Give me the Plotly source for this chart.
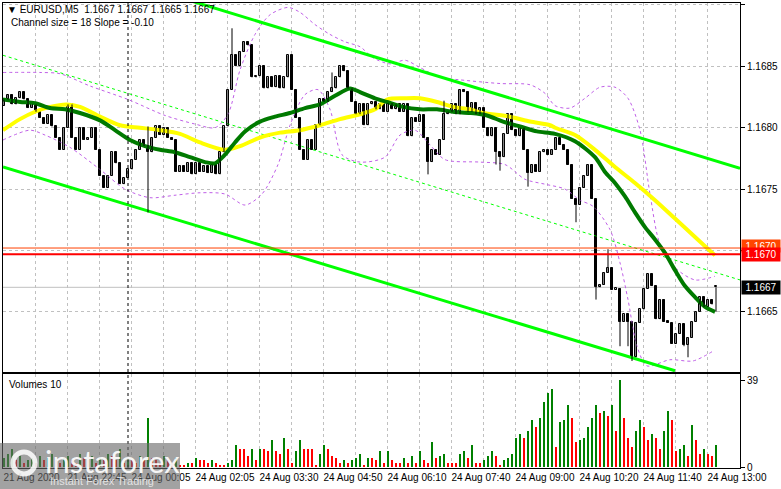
import plotly.graph_objects as go

# ---------------- data ----------------
closes = [
    1.16823, 1.16827, 1.16819, 1.16824, 1.16829, 1.16823, 1.16816, 1.16819, 1.16813, 1.16808,
    1.16803, 1.16810, 1.16801, 1.16792, 1.16782, 1.16800, 1.16819, 1.16792, 1.16782, 1.16800,
    1.16790, 1.16792, 1.16800, 1.16782, 1.16761, 1.16751, 1.16761, 1.16780, 1.16771, 1.16754,
    1.16759, 1.16766, 1.16774, 1.16782, 1.16790, 1.16785, 1.16780, 1.16792, 1.16801, 1.16794,
    1.16800, 1.16792, 1.16790, 1.16764, 1.16769, 1.16764, 1.16771, 1.16762, 1.16771, 1.16764,
    1.16769, 1.16763, 1.16770, 1.16762, 1.16780, 1.16801, 1.16831, 1.16859, 1.16850, 1.16862,
    1.16870, 1.16867, 1.16841, 1.16842, 1.16850, 1.16832, 1.16841, 1.16833, 1.16842, 1.16832,
    1.16841, 1.16859, 1.16831, 1.16808, 1.16782, 1.16774, 1.16790, 1.16782, 1.16802, 1.16823,
    1.16821, 1.16829, 1.16832, 1.16841, 1.16850, 1.16846, 1.16832, 1.16821, 1.16811, 1.16819,
    1.16802, 1.16819, 1.16821, 1.16815, 1.16819, 1.16813, 1.16820, 1.16815, 1.16819, 1.16813,
    1.16819, 1.16793, 1.16808, 1.16805, 1.16810, 1.16792, 1.16772, 1.16782, 1.16778, 1.16790,
    1.16811, 1.16813, 1.16819, 1.16811, 1.16831, 1.16829, 1.16813, 1.16820, 1.16811, 1.16816,
    1.16800, 1.16793, 1.16800, 1.16780, 1.16776, 1.16795, 1.16811, 1.16798, 1.16793, 1.16800,
    1.16782, 1.16763, 1.16770, 1.16764, 1.16780, 1.16782, 1.16778, 1.16782, 1.16792, 1.16786,
    1.16782, 1.16770, 1.16742, 1.16737, 1.16751, 1.16761, 1.16770, 1.16742, 1.16670, 1.16672,
    1.16682, 1.16686, 1.16668, 1.16669, 1.16642, 1.16648, 1.16642, 1.16613, 1.16641, 1.16652,
    1.16669, 1.16681, 1.16671, 1.16644, 1.16660, 1.16642, 1.16641, 1.16624, 1.16632, 1.16640,
    1.16623, 1.16629, 1.16642, 1.16650, 1.16662, 1.16654, 1.16660, 1.16656, 1.16670,
]
first_open = 1.16818
last_ohlc = (1.1667, 1.1667, 1.1665, 1.1667)   # header: O H L C
# notable wicks: bar -> (high, low)
wicks = {
    36: (1.16801, 1.16731), 57: (1.16881, 1.16831), 73: (1.16831, 1.16808),
    82: (1.16845, 1.16829), 106: (1.16792, 1.16762), 110: (1.16822, 1.16790),
    123: (1.16793, 1.16770), 124: (1.16780, 1.16765), 131: (1.16782, 1.16752),
    143: (1.16742, 1.16723), 148: (1.16742, 1.16660), 151: (1.16701, 1.16682),
    154: (1.16669, 1.16622), 156: (1.16648, 1.16622), 157: (1.16642, 1.16610),
    170: (1.16640, 1.16622), 171: (1.16629, 1.16613), 160: (1.16669, 1.16652),
}
volumes = [
    4, 6, 8, 3, 5, 2, 3, 4, 2, 5, 3, 4, 6, 3, 2, 4, 5, 3, 2, 6,
    4, 3, 5, 2, 4, 3, 6, 5, 3, 8, 2, 4, 3, 2, 5, 3, 22, 4, 3, 2,
    5, 3, 2, 4,
    1, 1, 2, 2, 4, 3, 3, 2, 3, 2, 1, 1, 2, 3, 10, 8, 8, 5, 8, 3,
    8, 8, 7, 12, 7, 6, 13, 8, 2, 7, 12, 8, 8, 8, 1, 6, 10, 8, 5, 4,
    2, 3, 2, 3, 4, 6, 1, 4, 4, 3,
    7, 2, 7, 3, 2, 2, 4, 2, 5, 2, 7, 3, 2, 11, 4, 5, 6, 2, 2, 2,
    6, 7, 4, 10, 2, 2, 3, 5, 7, 5, 1, 3, 4, 6, 13, 15, 13, 16, 21, 18,
    22, 29, 33, 35, 9, 20, 21, 28, 22, 11, 12, 13, 18, 22, 28, 24, 25, 23, 28, 16,
    39, 22, 13, 9, 16, 21, 18, 12, 15, 13, 8, 16, 25, 21, 7, 8, 10, 5, 19, 12,
    6, 8, 6, 5, 10,
]
# moving averages and bands read at sample bars
ma_slow_bar = [-0.25, 4, 7.75, 11.5, 15.75, 19, 24, 29, 34, 39, 44, 49, 55.25, 59, 64, 69, 74, 79,
               84, 89, 92.75, 95.75, 100.25, 104, 108.25, 112.25, 116.5, 119.75, 126.5, 131.5,
               136.5, 137.75, 142.75, 147.75, 152.75, 157.75, 162.75, 167.75, 172.75, 177.75]
ma_slow = [1.16798, 1.16807, 1.16813, 1.16817, 1.16819, 1.16817, 1.16809, 1.16802, 1.16800, 1.16798,
           1.16795, 1.16788, 1.16782, 1.16785, 1.16792, 1.16796, 1.16798, 1.16802, 1.16807, 1.16811,
           1.16815, 1.16823, 1.16824, 1.16824, 1.16821, 1.16817, 1.16815, 1.16812, 1.16809, 1.16805,
           1.16802, 1.16800, 1.16794, 1.16782, 1.16768, 1.16755, 1.16741, 1.16726, 1.16711, 1.16696]
ma_fast_bar = [-0.25, 4, 7.75, 11.5, 15.25, 19, 24, 27.75, 31.5, 35.25, 39, 42.75, 46.5, 50.25, 52.75,
               55.25, 57.75, 60.25, 64, 67.75, 71.5, 75.25, 79, 82.75, 86.5, 89, 92.75, 95.75, 99.75,
               104, 108.25, 112.25, 116.5, 120.75, 124.75, 129, 133.25, 137.75, 142.75, 147.75,
               150.25, 152.75, 155.25, 157.75, 160.25, 162.75, 165.25, 167.75, 170.25, 172.75,
               175.25, 177.75]
ma_fast = [1.16823, 1.16821, 1.16820, 1.16816, 1.16815, 1.16812, 1.16806, 1.16798, 1.16790, 1.16785,
           1.16782, 1.16780, 1.16776, 1.16772, 1.16771, 1.16778, 1.16788, 1.16797, 1.16805, 1.16809,
           1.16812, 1.16816, 1.16819, 1.16826, 1.16832, 1.16829, 1.16824, 1.16821, 1.16817, 1.16815,
           1.16815, 1.16813, 1.16812, 1.16810, 1.16805, 1.16801, 1.16797, 1.16795, 1.16789, 1.16776,
           1.16764, 1.16755, 1.16744, 1.16731, 1.16719, 1.16709, 1.16698, 1.16684, 1.16671, 1.16662,
           1.16654, 1.16650]
bb_up_bar = [-0.25, 9, 14, 21.5, 31, 40.25, 47.75, 52.75, 56, 59, 62.75, 66.5, 71, 74, 77.75, 81.5,
             85.25, 89, 92.25, 96.5, 100.25, 104, 109, 114, 124, 131.5, 135.25, 137.75, 141.5,
             145.25, 149, 152.75, 156, 159, 161.5, 164, 167.75, 172.75, 177.75]
bb_up = [1.16845, 1.16845, 1.16844, 1.16834, 1.16823, 1.16810, 1.16803, 1.16800, 1.16811, 1.16847,
         1.16876, 1.16892, 1.16898, 1.16894, 1.16884, 1.16876, 1.16870, 1.16866, 1.16857, 1.16852,
         1.16855, 1.16849, 1.16841, 1.16839, 1.16836, 1.16835, 1.16828, 1.16818, 1.16816, 1.16824,
         1.16833, 1.16833, 1.16824, 1.16798, 1.16746, 1.16705, 1.16686, 1.16676, 1.16679]
bb_lo_bar = [-0.25, 6.5, 10.25, 16.5, 24, 30.25, 36.5, 42.75, 49, 55.25, 60.25, 64.5, 68.5, 71.5,
             75.25, 78.5, 81.5, 84.5, 89, 95.25, 99, 102.75, 106.5, 110.25, 119, 125.25, 130.25,
             135.25, 140.25, 144, 147.25, 151.5, 154, 156, 158.25, 160.75, 166.5, 172.25, 177.25]
bb_lo = [1.16790, 1.16798, 1.16794, 1.16784, 1.16766, 1.16750, 1.16743, 1.16745, 1.16747, 1.16746,
         1.16737, 1.16746, 1.16770, 1.16802, 1.16827, 1.16831, 1.16815, 1.16778, 1.16772, 1.16776,
         1.16794, 1.16798, 1.16786, 1.16774, 1.16772, 1.16770, 1.16758, 1.16754, 1.16750, 1.16741,
         1.16736, 1.16717, 1.16690, 1.16660, 1.16622, 1.16606, 1.16611, 1.16610, 1.16618]
# regression channel (bar, price)
ch_upper = [(-0.25, 1.16950), (184, 1.16767)]
ch_middle = [(-0.25, 1.16859), (184, 1.16676)]
ch_lower = [(-0.25, 1.16768), (167.75, 1.16602)]
level_red = 1.16697
level_orange = 1.16702
bid = 1.1667
day_sep_bar = 31
price_ticks = [1.1665, 1.1670, 1.1675, 1.1680, 1.1685, 1.1690]
vol_ticks = [0, 39]
time_labels = ["21 Aug 2020", "21 Aug 22:45", "24 Aug 00:05", "24 Aug 02:05", "24 Aug 03:30",
               "24 Aug 04:50", "24 Aug 06:10", "24 Aug 07:40", "24 Aug 09:00", "24 Aug 10:20",
               "24 Aug 11:40", "24 Aug 13:00"]

# ---------------- derived ----------------
n = len(closes)
idx = list(range(n))
opens = [first_open] + closes[:-1]
opens[-1] = last_ohlc[0]
highs = [max(o, c) for o, c in zip(opens, closes)]
lows = [min(o, c) for o, c in zip(opens, closes)]
for k, (h, l) in wicks.items():
    highs[k] = max(highs[k], h)
    lows[k] = min(lows[k], l)
highs[-1] = max(highs[-1], last_ohlc[1])
lows[-1] = min(lows[-1], last_ohlc[2])

body_base = [min(o, c) for o, c in zip(opens, closes)]
body_h = [max(abs(c - o), 0.000012) for o, c in zip(opens, closes)]
body_fill = ["white" if c >= o else "black" for o, c in zip(opens, closes)]

wx, wy = [], []
for i in idx:
    wx += [i, i, None]
    wy += [lows[i], highs[i], None]

vcol = ["#008000"] + ["#008000" if volumes[i] > volumes[i - 1] else "#FF0000" for i in range(1, n)]

FONT = "Liberation Sans, Arial, sans-serif"
W, H = 781, 489
L, R, T, B = 3, 41, 3, 21


def pxx(x):
    return (x - L) / (W - L - R)


def pyy(y):
    return (H - B - y) / (H - T - B)


fig = go.Figure()

# Bollinger bands
for bx, by in ((bb_up_bar, bb_up), (bb_lo_bar, bb_lo)):
    fig.add_trace(go.Scatter(x=bx, y=by, mode="lines", xaxis="x", yaxis="y",
                             line=dict(color="#C060E8", width=1, dash="3px,3px", shape="spline", smoothing=0.8)))
# channel
for ch, wdt, dsh in ((ch_upper, 3, "solid"), (ch_lower, 3, "solid"), (ch_middle, 1, "3px,3px")):
    fig.add_trace(go.Scatter(x=[p[0] for p in ch], y=[p[1] for p in ch], mode="lines",
                             xaxis="x", yaxis="y", line=dict(color="#00FF00", width=wdt, dash=dsh)))
# moving averages
fig.add_trace(go.Scatter(x=ma_slow_bar, y=ma_slow, mode="lines", xaxis="x", yaxis="y",
                         line=dict(color="#FFFF00", width=4, shape="spline", smoothing=0.8)))
fig.add_trace(go.Scatter(x=ma_fast_bar, y=ma_fast, mode="lines", xaxis="x", yaxis="y",
                         line=dict(color="#007A00", width=4, shape="spline", smoothing=0.8)))
# candles
fig.add_trace(go.Scatter(x=wx, y=wy, mode="lines", xaxis="x", yaxis="y",
                         line=dict(color="black", width=1)))
fig.add_trace(go.Bar(x=idx, y=body_h, base=body_base, width=0.62, xaxis="x", yaxis="y",
                     marker=dict(color=body_fill, line=dict(color="black", width=1))))
# volumes
fig.add_trace(go.Bar(x=idx, y=volumes, width=0.72, xaxis="x2", yaxis="y2",
                     marker=dict(color=vcol, line=dict(width=0))))

shapes = [
    dict(type="line", xref="x", yref="y", x0=-0.25, x1=184, y0=bid, y1=bid,
         line=dict(color="#C0C0C0", width=1), layer="below"),
    dict(type="line", xref="x", yref="y", x0=-0.25, x1=184, y0=level_orange, y1=level_orange,
         line=dict(color="#FF4000", width=1)),
    dict(type="line", xref="x", yref="y", x0=-0.25, x1=184, y0=level_red, y1=level_red,
         line=dict(color="#FF0000", width=2)),
    dict(type="line", xref="x", yref="paper", x0=day_sep_bar, x1=day_sep_bar, y0=0, y1=1,
         line=dict(color="black", width=1, dash="3px,3px")),
    # watermark box and gear ring
    dict(type="rect", xref="paper", yref="paper", x0=pxx(0), x1=pxx(180), y0=pyy(489), y1=pyy(443),
         fillcolor="rgba(105,105,105,0.62)", line=dict(width=0), layer="above"),
    dict(type="circle", xref="paper", yref="paper", x0=pxx(13), x1=pxx(35), y0=pyy(474), y1=pyy(452),
         line=dict(color="rgba(255,255,255,0.85)", width=5), layer="above"),
]

ann = [
    dict(xref="paper", yref="paper", x=pxx(5), y=pyy(9), text="▼ EURUSD,M5  1.1667 1.1667 1.1665 1.1667",
         showarrow=False, xanchor="left", yanchor="middle", font=dict(family=FONT, size=10, color="black")),
    dict(xref="paper", yref="paper", x=pxx(9), y=pyy(23), text="Channel size = 18 Slope = -0.10",
         showarrow=False, xanchor="left", yanchor="middle", font=dict(family=FONT, size=10, color="black")),
    dict(xref="paper", yref="paper", x=pxx(7), y=pyy(384), text="Volumes 10",
         showarrow=False, xanchor="left", yanchor="middle", font=dict(family=FONT, size=10, color="black")),
    dict(xref="paper", yref="y", x=1, xshift=1, y=level_orange, yshift=2, text="1.1670", showarrow=False,
         xanchor="left", yanchor="middle", bgcolor="#FF4500", width=38, height=12, borderpad=0,
         font=dict(family=FONT, size=10, color="white")),
    dict(xref="paper", yref="y", x=1, xshift=1, y=level_red, text="1.1670", showarrow=False,
         xanchor="left", yanchor="middle", bgcolor="#FF0000", width=38, height=13, borderpad=0,
         font=dict(family=FONT, size=10, color="white")),
    dict(xref="paper", yref="y", x=1, xshift=1, y=bid, text="1.1667", showarrow=False,
         xanchor="left", yanchor="middle", bgcolor="#000000", width=38, height=13, borderpad=0,
         font=dict(family=FONT, size=10, color="white")),
    dict(xref="paper", yref="paper", x=pxx(43), y=pyy(461), text="instaforex", showarrow=False,
         xanchor="left", yanchor="middle", font=dict(family="Lato, Open Sans, sans-serif", size=31,
                                                    color="rgba(255,255,255,0.92)")),
    dict(xref="paper", yref="paper", x=pxx(48), y=pyy(481), text="Instant Forex Trading", showarrow=False,
         xanchor="left", yanchor="middle", font=dict(family=FONT, size=11, color="rgba(235,235,235,0.9)")),
]

grid_vals = [-0.25 + 8 * j for j in range(24)]
grid_text = [time_labels[j // 2] if j % 2 == 0 and j // 2 < len(time_labels) else "" for j in range(24)]

axis_common = dict(showline=True, linecolor="black", linewidth=1, mirror=True, zeroline=False,
                   gridcolor="#C0C0C0", griddash="3px,3px", gridwidth=1, automargin=False)

fig.update_layout(
    width=W, height=H, margin=dict(l=L, r=R, t=T, b=B, autoexpand=False),
    paper_bgcolor="white", plot_bgcolor="white", showlegend=False, hovermode=False,
    barmode="overlay", bargap=0, shapes=shapes, annotations=ann,
    font=dict(family=FONT, size=10, color="black"),
    xaxis=dict(domain=[0, 1], anchor="y", range=[-0.25, 184], tickvals=grid_vals, showticklabels=False,
               ticks="", showgrid=True, **axis_common),
    yaxis=dict(domain=[pyy(372), 1], anchor="x", side="right", range=[1.16601, 1.169016],
               tickvals=price_ticks, ticktext=[f"{v:.4f}" for v in price_ticks], ticks="outside",
               ticklen=4, tickcolor="black", showgrid=True, tickfont=dict(size=10), **axis_common),
    xaxis2=dict(domain=[0, 1], anchor="y2", range=[-0.25, 184], tickvals=grid_vals, ticktext=grid_text,
                ticks="", ticklabelposition="outside right", tickangle=0, showgrid=True,
                tickfont=dict(size=10), **axis_common),
    yaxis2=dict(domain=[0, pyy(374)], anchor="x2", side="right", range=[-0.45, 41.7],
                tickvals=vol_ticks, ticktext=[str(v) for v in vol_ticks], ticks="outside", ticklen=4,
                tickcolor="black", showgrid=False, tickfont=dict(size=10), **axis_common),
)

fig.write_html("out.html", config={"displayModeBar": False},
               post_script="document.body.style.margin='0px';document.body.style.overflow='hidden';")
